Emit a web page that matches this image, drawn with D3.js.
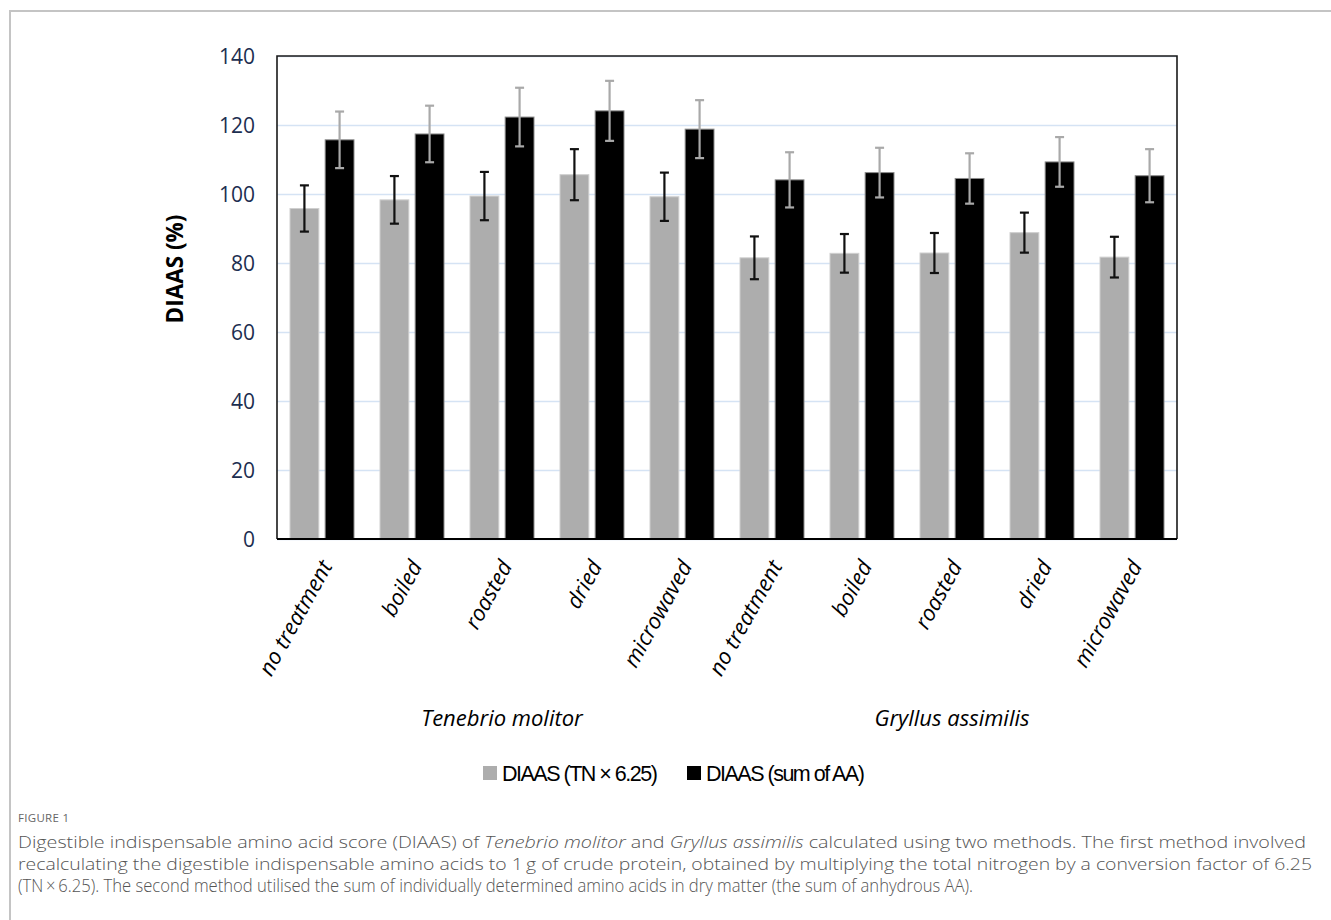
<!DOCTYPE html>
<html>
<head>
<meta charset="utf-8">
<script src="https://cdn.jsdelivr.net/npm/d3@7"></script>
<style>
  body { margin: 0; background: white; }
  svg { display: block; }
</style>
</head>
<body>
<svg width="1331" height="920"></svg>
<script>
const treatments = ['no treatment', 'boiled', 'roasted', 'dried', 'microwaved',
                    'no treatment', 'boiled', 'roasted', 'dried', 'microwaved'];
const species = ['Tenebrio molitor', 'Gryllus assimilis'];
const diaasTN = [95.8, 98.3, 99.4, 105.6, 99.2, 81.5, 82.8, 82.9, 88.8, 81.7];
const errTN = [6.7, 6.9, 7.0, 7.4, 7.0, 6.2, 5.6, 5.8, 5.8, 5.9];
const diaasAA = [115.7, 117.4, 122.3, 124.1, 118.8, 104.1, 106.2, 104.5, 109.3, 105.3];
const errAA = [8.2, 8.2, 8.5, 8.7, 8.4, 8.0, 7.2, 7.3, 7.2, 7.7];
const yTicks = [0, 20, 40, 60, 80, 100, 120, 140];
const seriesNames = ['DIAAS (TN × 6.25)', 'DIAAS (sum of AA)'];

const svg = d3.select('svg');

const margin = { top: 56, left: 277, right: 154, bottom: 381 };
const svg_width = 1331, svg_height = 920;
const innerWidth = svg_width - margin.left - margin.right;
const innerHeight = svg_height - margin.top - margin.bottom;

// outer figure frame
svg.append('path')
    .attr('d', `M1331,11 H10 V920`)
    .attr('fill', 'none')
    .attr('stroke', '#c4c4c4')
    .attr('stroke-width', 2);

const data = treatments.map((t, i) => ({
    key: i, label: t,
    values: [
        { s: 'tn', v: diaasTN[i], e: errTN[i] },
        { s: 'aa', v: diaasAA[i], e: errAA[i] }
    ]
}));

const xScale = d3.scaleBand()
      .domain(data.map(d => d.key))
      .range([0, innerWidth]);
const xInner = d3.scaleBand()
      .domain(['tn', 'aa'])
      .range([-32, 32])
      .paddingInner(0.18);
const yScale = d3.scaleLinear()
      .domain([0, 140])
      .range([innerHeight, 0]);

const g = svg.append('g')
      .attr('transform', `translate(${margin.left}, ${margin.top})`);

// gridlines
const yGrid = d3.axisLeft(yScale).tickValues(yTicks).tickSize(-innerWidth).tickFormat('');
const gridGroup = g.append('g').call(yGrid);
gridGroup.selectAll('.domain').remove();
gridGroup.selectAll('text').remove();
gridGroup.selectAll('line').attr('stroke', '#d5e3f4').attr('stroke-width', 1.3);

// y axis labels
const yAxis = d3.axisLeft(yScale).tickValues(yTicks).tickSize(0).tickPadding(22);
const yAxisGroup = g.append('g').call(yAxis);
yAxisGroup.selectAll('.domain').remove();
yAxisGroup.selectAll('text')
    .attr('font-family', '"Open Sans", sans-serif')
    .attr('font-size', 21)
    .attr('fill', '#1c2e50')
    .attr('dy', '0.36em');

// bars
const colors = { tn: '#adadad', aa: '#000000' };
const strokes = { tn: '#cfcfcf', aa: '#8a8a8a' };
const errColors = { tn: '#111111', aa: '#a9a9a9' };

const groups = g.selectAll('.cat').data(data).enter()
    .append('g')
    .attr('class', 'cat')
    .attr('transform', d => `translate(${xScale(d.key) + xScale.bandwidth() / 2}, 0)`);

groups.selectAll('rect').data(d => d.values).enter()
    .append('rect')
    .attr('x', d => xInner(d.s))
    .attr('width', xInner.bandwidth())
    .attr('y', d => yScale(d.v))
    .attr('height', d => innerHeight - yScale(d.v))
    .attr('fill', d => colors[d.s])
    .attr('stroke', d => strokes[d.s])
    .attr('stroke-width', 1);

// error bars
const errs = groups.selectAll('.err').data(d => d.values).enter()
    .append('g')
    .attr('class', 'err')
    .attr('stroke', d => errColors[d.s])
    .attr('stroke-width', 2.2);
const ex = d => xInner(d.s) + xInner.bandwidth() / 2;
errs.append('line')
    .attr('x1', ex).attr('x2', ex)
    .attr('y1', d => yScale(d.v + d.e)).attr('y2', d => yScale(d.v - d.e));
[1, -1].forEach(sign => {
    errs.append('line')
        .attr('x1', d => ex(d) - 4.5).attr('x2', d => ex(d) + 4.5)
        .attr('y1', d => yScale(d.v + sign * d.e)).attr('y2', d => yScale(d.v + sign * d.e));
});

// plot frame
g.append('path')
    .attr('d', `M0,${innerHeight} V0 H${innerWidth} V${innerHeight}`)
    .attr('fill', 'none')
    .attr('stroke', '#1a1a1a')
    .attr('stroke-width', 1.6);
g.append('line')
    .attr('x1', 0).attr('x2', innerWidth)
    .attr('y1', innerHeight).attr('y2', innerHeight)
    .attr('stroke', '#000').attr('stroke-width', 2);

// x axis labels
const xAxis = d3.axisBottom(xScale).tickSize(0).tickFormat(i => treatments[i]);
const xAxisGroup = g.append('g')
    .attr('transform', `translate(0, ${innerHeight})`)
    .call(xAxis);
xAxisGroup.selectAll('.domain').remove();
xAxisGroup.selectAll('text')
    .attr('font-family', '"Open Sans", sans-serif')
    .attr('font-style', 'italic')
    .attr('font-size', 22)
    .attr('fill', '#000')
    .attr('text-anchor', 'end')
    .attr('dy', 0)
    .attr('y', 0)
    .attr('transform', 'translate(11, 27) rotate(-61)');

// species labels
const groupCenter = k => (xScale(k * 5) + xScale(k * 5 + 4) + xScale.bandwidth()) / 2;
g.selectAll('.species').data(species).enter()
    .append('text')
    .attr('class', 'species')
    .attr('x', (d, k) => groupCenter(k))
    .attr('y', innerHeight + 187)
    .attr('text-anchor', 'middle')
    .attr('font-family', '"Open Sans", sans-serif')
    .attr('font-style', 'italic')
    .attr('font-size', 22)
    .text(d => d);

// y axis title
svg.append('text')
    .attr('transform', 'translate(183, 269) rotate(-90)')
    .attr('text-anchor', 'middle')
    .attr('font-family', '"Open Sans", sans-serif')
    .attr('font-weight', 'bold')
    .attr('font-size', 22.5)
    .text('DIAAS (%)');

// legend
const legendX = [483, 687];
const legend = svg.selectAll('.legend').data(seriesNames).enter()
    .append('g')
    .attr('class', 'legend')
    .attr('transform', (d, i) => `translate(${legendX[i]}, 773)`);
legend.append('rect')
    .attr('x', 0).attr('y', -7)
    .attr('width', 14).attr('height', 14)
    .attr('fill', (d, i) => colors[['tn', 'aa'][i]]);
legend.append('text')
    .attr('x', 19).attr('y', 8)
    .attr('font-family', '"Liberation Sans", Arial, sans-serif')
    .attr('font-size', 21.5)
    .attr('letter-spacing', -1.5)
    .text(d => d);

// caption
const cap = svg.append('g')
    .attr('font-family', '"Open Sans", sans-serif')
    .attr('font-weight', 300)
    .attr('fill', '#555');
cap.append('text')
    .attr('x', 18).attr('y', 822)
    .attr('font-size', 11.5)
    .attr('font-weight', 400)
    .attr('fill', '#666')
    .attr('letter-spacing', 0.3)
    .text('FIGURE 1');
const captionLines = [
    [['Digestible indispensable amino acid score (DIAAS) of ', false], ['Tenebrio molitor', true], [' and ', false],
     ['Gryllus assimilis', true], [' calculated using two methods. The first method involved', false]],
    [['recalculating the digestible indispensable amino acids to 1\u2009g of crude protein, obtained by multiplying the total nitrogen by a conversion factor of 6.25', false]],
    [['(TN\u2009×\u20096.25). The second method utilised the sum of individually determined amino acids in dry matter (the sum of anhydrous AA).', false]]
];
const captionWidths = [1288, 1294, 955];
const captionSizes = [16.5, 16.5, 17.5];
captionLines.forEach((line, i) => {
    const t = cap.append('text')
        .attr('x', 18).attr('y', 848 + i * 22)
        .attr('font-size', captionSizes[i])
        .attr('textLength', captionWidths[i])
        .attr('lengthAdjust', 'spacingAndGlyphs');
    line.forEach(([s, it]) => {
        t.append('tspan').attr('font-style', it ? 'italic' : 'normal').text(s);
    });
});
</script>
</body>
</html>
